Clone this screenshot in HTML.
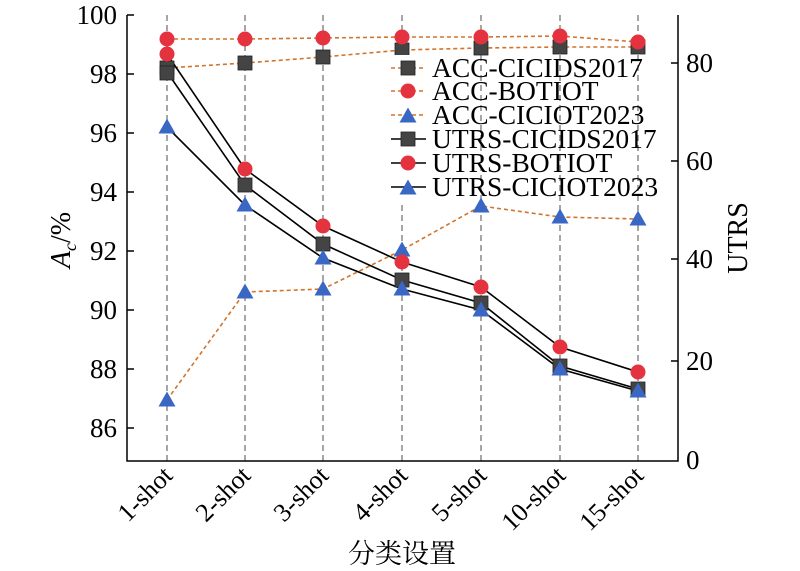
<!DOCTYPE html>
<html><head><meta charset="utf-8"><style>body{margin:0;background:#fff}svg{display:block}</style></head><body>
<svg width="800" height="571" viewBox="0 0 800 571" xmlns="http://www.w3.org/2000/svg" font-family="Liberation Serif, serif">
<g stroke="#777" stroke-width="1.3" stroke-dasharray="6,4">
<line x1="167" y1="15" x2="167" y2="461"/><line x1="245" y1="15" x2="245" y2="461"/><line x1="323" y1="15" x2="323" y2="461"/><line x1="402" y1="15" x2="402" y2="461"/><line x1="481" y1="15" x2="481" y2="461"/><line x1="560" y1="15" x2="560" y2="461"/><line x1="638" y1="15" x2="638" y2="461"/>
</g>
<g stroke="#000" stroke-width="1.5" fill="none">
<path d="M127 15V461H678V15"/>
<path d="M127 15h7M127 74h7M127 133h7M127 192h7M127 251h7M127 310h7M127 369h7M127 428h7"/>
<path d="M678 63h-7M678 161h-7M678 259h-7M678 361h-7"/>
</g>
<g font-size="27" text-anchor="end">
<text x="117" y="24">100</text><text x="117" y="83">98</text><text x="117" y="142">96</text><text x="117" y="201">94</text><text x="117" y="260">92</text><text x="117" y="319">90</text><text x="117" y="378">88</text><text x="117" y="437">86</text>
</g>
<g font-size="27">
<text x="686" y="72">80</text><text x="686" y="170">60</text><text x="686" y="268">40</text><text x="686" y="370">20</text><text x="686" y="469">0</text>
</g>
<text font-size="28" transform="translate(747 238) rotate(-90)" text-anchor="middle">UTRS</text>
<text transform="translate(70 240) rotate(-90)" font-size="28" font-style="italic" text-anchor="middle">A<tspan font-size="18" dy="6">c</tspan><tspan font-style="normal" dy="-6">/%</tspan></text>
<g font-size="26" text-anchor="end">
<text transform="translate(174 477) rotate(-45)">1-shot</text><text transform="translate(252 477) rotate(-45)">2-shot</text><text transform="translate(330 477) rotate(-45)">3-shot</text><text transform="translate(409 477) rotate(-45)">4-shot</text><text transform="translate(488 477) rotate(-45)">5-shot</text><text transform="translate(567 477) rotate(-45)">10-shot</text><text transform="translate(645 477) rotate(-45)">15-shot</text>
</g>
<text x="402" y="563" font-size="27" text-anchor="middle" font-family="Liberation Serif, 'Noto Serif CJK SC', serif">分类设置</text>
<defs>
<rect id="sq" x="-7" y="-7" width="14" height="14" fill="#444" stroke="#222" stroke-width="0.8"/>
<circle id="ci" r="7.5" fill="#e5323f"/>
<path id="tr" d="M0-8.5L8.5 6.5H-8.5Z" fill="#3a66c4"/>
</defs>
<g fill="none" stroke="#d2742c" stroke-width="1.6" stroke-dasharray="4,3">
<polyline points="167,68 245,63 323,57 402,50 481,48 560,47 638,47"/>
<polyline points="167,39 245,39 323,38 402,37 481,37 560,36 638,42"/>
<polyline points="167,400 245,292 323,289 402,250 481,206 560,217 638,219"/>
</g>
<g fill="none" stroke="#000" stroke-width="1.6">
<polyline points="167,72 245,185 323,244 402,280 481,303 560,366 638,389"/>
<polyline points="167,54 245,169 323,226 402,262 481,287 560,347 638,372"/>
<polyline points="167,127 245,205 323,258 402,289 481,310 560,369 638,391"/>
</g>
<g>
<use href="#sq" x="167" y="68"/><use href="#sq" x="245" y="63"/><use href="#sq" x="323" y="57"/><use href="#sq" x="402" y="50"/><use href="#sq" x="481" y="48"/><use href="#sq" x="560" y="47"/><use href="#sq" x="638" y="47"/>
<use href="#ci" x="167" y="39"/><use href="#ci" x="245" y="39"/><use href="#ci" x="323" y="38"/><use href="#ci" x="402" y="37"/><use href="#ci" x="481" y="37"/><use href="#ci" x="560" y="36"/><use href="#ci" x="638" y="42"/>
<use href="#tr" x="167" y="400"/><use href="#tr" x="245" y="292"/><use href="#tr" x="323" y="289"/><use href="#tr" x="402" y="250"/><use href="#tr" x="481" y="206"/><use href="#tr" x="560" y="217"/><use href="#tr" x="638" y="219"/>
<use href="#sq" x="167" y="73"/><use href="#sq" x="245" y="185"/><use href="#sq" x="323" y="244"/><use href="#sq" x="402" y="280"/><use href="#sq" x="481" y="303"/><use href="#sq" x="560" y="366"/><use href="#sq" x="638" y="389"/>
<use href="#ci" x="167" y="54"/><use href="#ci" x="245" y="169"/><use href="#ci" x="323" y="226"/><use href="#ci" x="402" y="262"/><use href="#ci" x="481" y="287"/><use href="#ci" x="560" y="347"/><use href="#ci" x="638" y="372"/>
<use href="#tr" x="167" y="127"/><use href="#tr" x="245" y="205"/><use href="#tr" x="323" y="258"/><use href="#tr" x="402" y="289"/><use href="#tr" x="481" y="310"/><use href="#tr" x="560" y="369"/><use href="#tr" x="638" y="391"/>
</g>
<g>
<rect x="390" y="55" width="40" height="146" fill="#fff"/>
<g fill="none" stroke="#d2742c" stroke-width="1.6" stroke-dasharray="4,3">
<line x1="391" y1="68" x2="426" y2="68"/><line x1="391" y1="91" x2="426" y2="91"/><line x1="391" y1="115" x2="426" y2="115"/>
</g>
<g stroke="#000" stroke-width="1.6">
<line x1="391" y1="139" x2="426" y2="139"/><line x1="391" y1="163" x2="426" y2="163"/><line x1="391" y1="187" x2="426" y2="187"/>
</g>
<use href="#sq" x="408" y="68"/><use href="#ci" x="408" y="91"/><use href="#tr" x="408" y="116"/>
<use href="#sq" x="408" y="139"/><use href="#ci" x="408" y="163"/><use href="#tr" x="408" y="188"/>
<g font-size="27.5">
<text x="432" y="77">ACC-CICIDS2017</text><text x="432" y="100">ACC-BOTIOT</text><text x="432" y="124">ACC-CICIOT2023</text><text x="432" y="148">UTRS-CICIDS2017</text><text x="432" y="172">UTRS-BOTIOT</text><text x="432" y="196">UTRS-CICIOT2023</text>
</g>
</g>
</svg>
</body></html>
